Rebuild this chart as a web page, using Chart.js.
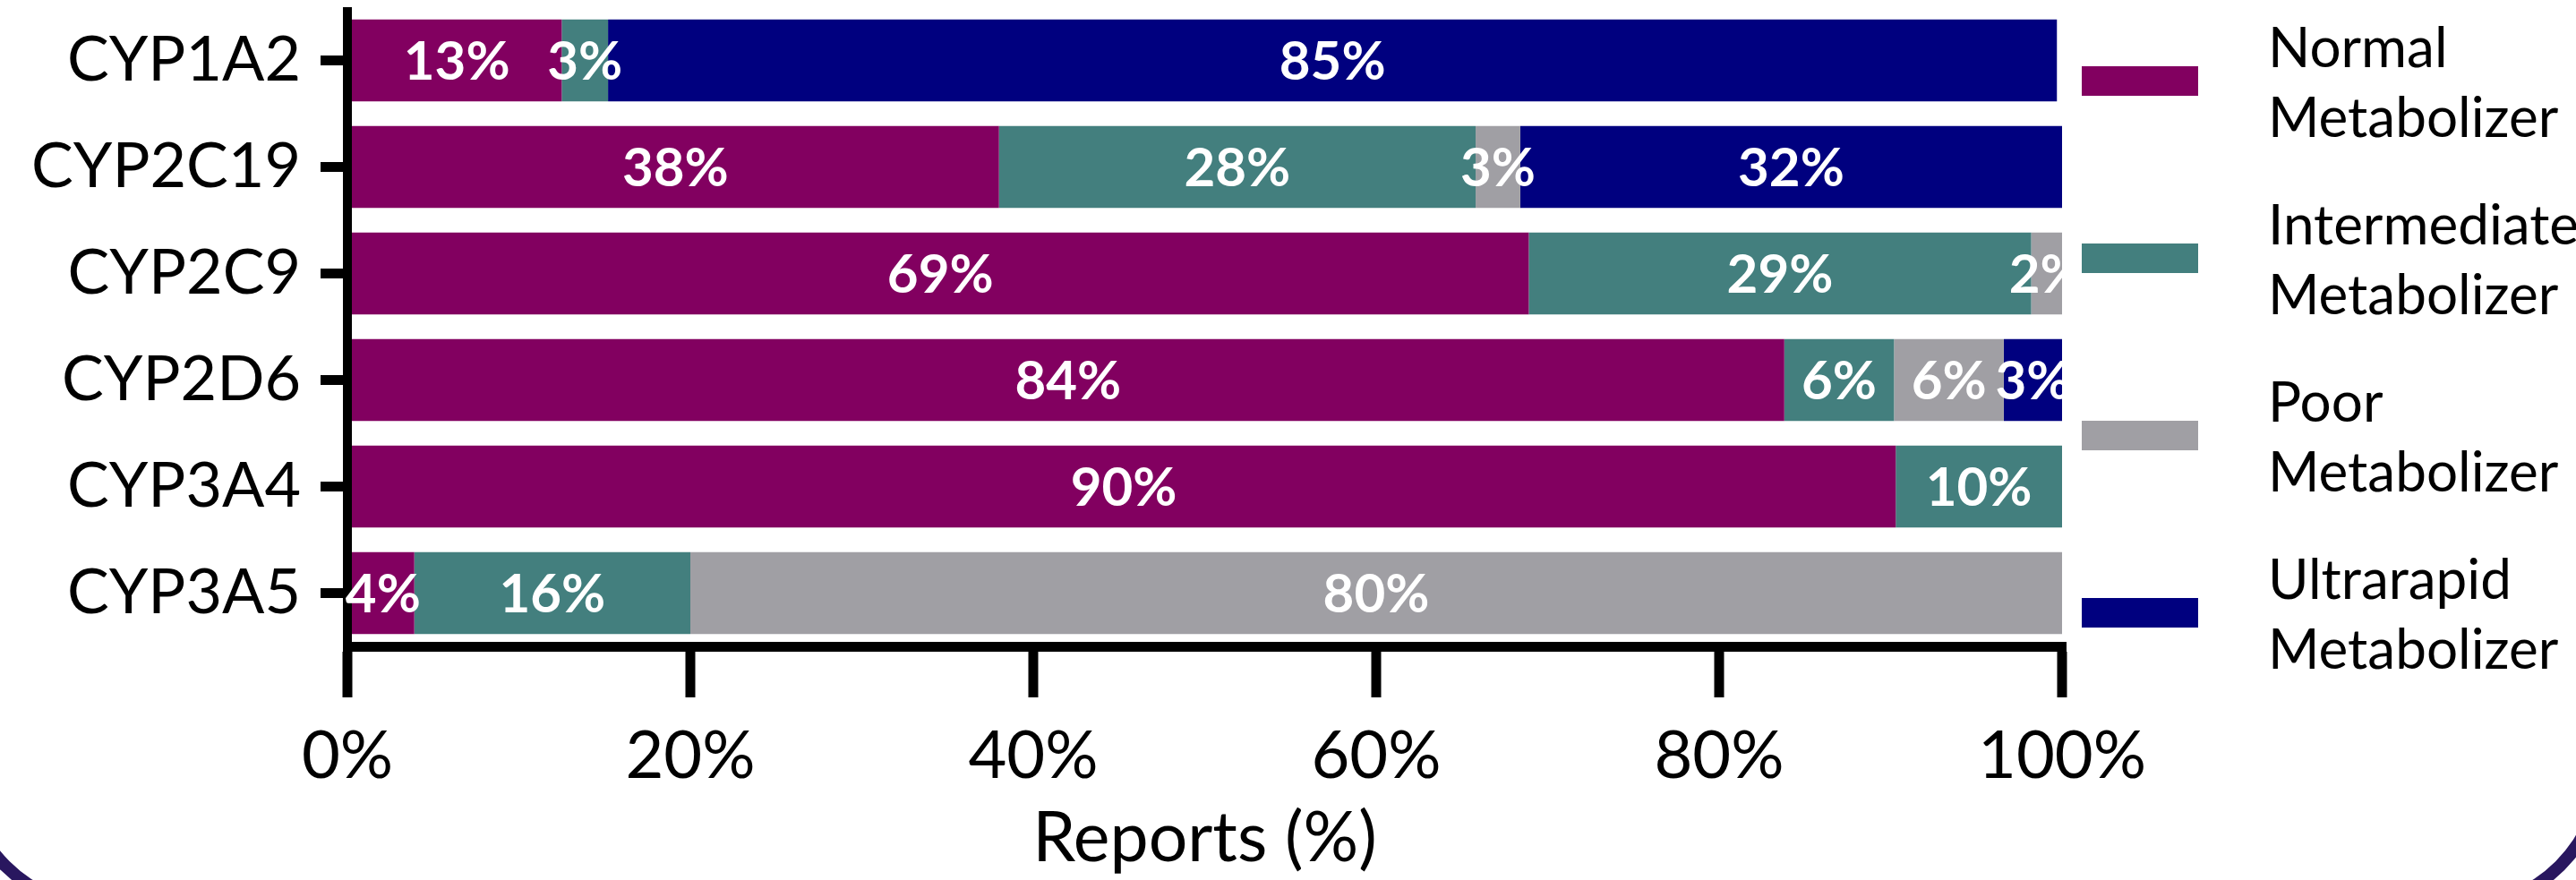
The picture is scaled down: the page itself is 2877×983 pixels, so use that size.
<!DOCTYPE html>
<html>
<head>
<meta charset="utf-8">
<script src="https://cdn.jsdelivr.net/npm/chart.js@4.4.1/dist/chart.umd.min.js"></script>
<style>
  html, body { margin: 0; padding: 0; background: #fff; }
  #wrap { position: relative; width: 2877px; height: 983px; overflow: hidden; background: #fff; }
  #frame { position: absolute; left: -48px; top: -600px; width: 2961px; height: 1621px; box-sizing: border-box;
           border: 14px solid #29175f; border-radius: 167px; pointer-events: none; }
</style>
</head>
<body>
<div id="wrap">
  <canvas id="cyp-chart" width="2877" height="983"></canvas>
  <div id="frame"></div>
</div>
<script>
const genes = ['CYP1A2', 'CYP2C19', 'CYP2C9', 'CYP2D6', 'CYP3A4', 'CYP3A5'];
const phenotypes = ['Normal Metabolizer', 'Intermediate Metabolizer', 'Poor Metabolizer', 'Ultrarapid Metabolizer'];

// percent of reports per gene
const normal       = [12.5, 38.0, 68.9, 83.8, 90.3, 3.9];
const intermediate = [2.7, 27.8, 29.3, 6.4, 9.7, 16.1];
const poor         = [0, 2.6, 1.8, 6.4, 0, 80.0];
const ultrarapid   = [84.5, 31.6, 0, 3.4, 0, 0];

const xTickLabels = ['0%', '20%', '40%', '60%', '80%', '100%'];
const colors = ['#820060', '#437f7e', '#a09fa4', '#00007f'];

const series = [normal, intermediate, poor, ultrarapid];

Chart.defaults.font.family = 'Lato';
Chart.defaults.color = '#000';

// white % labels centred in each segment
const barLabels = {
  id: 'barLabels',
  afterDatasetsDraw(chart) {
    const ctx = chart.ctx;
    ctx.save();
    ctx.fillStyle = '#fff';
    ctx.font = 'bold 60px Lato';
    ctx.textAlign = 'center';
    ctx.textBaseline = 'middle';
    chart.data.datasets.forEach((ds, i) => {
      chart.getDatasetMeta(i).data.forEach((bar, j) => {
        const v = ds.data[j];
        if (!v) return;
        ctx.fillText(Math.round(v) + '%', (bar.x + bar.base) / 2, bar.y + 2);
      });
    });
    ctx.restore();
  }
};

// legend on the right: swatch + two-line label
const sideLegend = {
  id: 'sideLegend',
  afterDraw(chart) {
    const ctx = chart.ctx;
    ctx.save();
    ctx.font = '62px Lato';
    ctx.textBaseline = 'middle';
    ctx.textAlign = 'left';
    chart.data.datasets.forEach((ds, i) => {
      const cy = 90 + i * 198;
      ctx.fillStyle = ds.backgroundColor;
      ctx.fillRect(2325, cy - 16, 130, 33);
      ctx.fillStyle = '#000';
      ds.label.split(' ').forEach((line, k) => {
        ctx.fillText(line, 2533, cy + (k - 0.5) * 78 + 4);
      });
    });
    ctx.restore();
  }
};

new Chart(document.getElementById('cyp-chart'), {
  type: 'bar',
  data: {
    labels: genes,
    datasets: phenotypes.map((name, i) => ({
      label: name,
      data: series[i],
      backgroundColor: colors[i],
      borderWidth: 0,
      barPercentage: 0.77,
      categoryPercentage: 1
    }))
  },
  options: {
    indexAxis: 'y',
    responsive: false,
    animation: false,
    layout: { padding: { top: 8, right: 574, left: 0, bottom: 0 } },
    plugins: { legend: { display: false }, tooltip: { enabled: false } },
    scales: {
      x: {
        stacked: true,
        min: 0,
        max: 100,
        z: 1,
        ticks: {
          stepSize: 20,
          callback: (v, i) => xTickLabels[i],
          font: { size: 74 },
          padding: 22
        },
        grid: {
          color: c => c.index === 0 ? '#000' : 'rgba(0,0,0,0)',
          lineWidth: 10,
          tickColor: '#000',
          tickWidth: 11,
          tickLength: 57
        },
        border: { display: true, color: '#000', width: 11 },
        title: { display: true, text: 'Reports (%)', font: { size: 77 }, padding: 0 },
        afterFit(s) { s.height = 261; s.paddingLeft = 0; s.paddingRight = 0; }
      },
      y: {
        stacked: true,
        grid: {
          offset: false,
          drawOnChartArea: false,
          tickLength: 30,
          tickWidth: 11,
          tickColor: '#000'
        },
        border: { display: false },
        ticks: { font: { size: 70 }, padding: 22 },
        afterFit(s) { s.width = 388; s.paddingTop = 0; s.paddingBottom = 0; }
      }
    }
  },
  plugins: [barLabels, sideLegend]
});
</script>
</body>
</html>
